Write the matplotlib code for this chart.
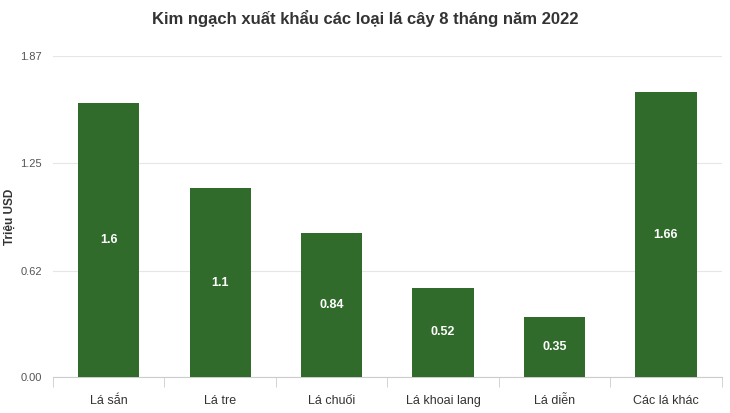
import numpy as np
import matplotlib.pyplot as plt

plt.rcParams['font.family'] = ['Liberation Sans', 'DejaVu Sans']

categories = ["Lá sắn", "Lá tre", "Lá chuối", "Lá khoai lang", "Lá diễn", "Các lá khác"]
values = [1.6, 1.1, 0.84, 0.52, 0.35, 1.66]
y_max = 1.87
y_ticks = [0.0, 0.62, 1.25, 1.87]

fig = plt.figure(figsize=(7.3, 4.13), dpi=100)
ax = fig.add_axes([0.0726, 0.087, 0.916, 0.777])

x = np.arange(len(categories))
bars = ax.bar(x, values, width=0.55, color="#316b2b", zorder=3)
for b, v in zip(bars, values):
    ax.text(b.get_x() + b.get_width() / 2, v / 2, str(v), ha="center", va="center",
            color="white", fontsize=9, fontweight="bold", zorder=4)

ax.set_xlim(-0.5, len(categories) - 0.5)
ax.set_ylim(0, y_max)
ax.set_yticks(y_ticks)
ax.set_yticklabels(["%.2f" % t for t in y_ticks], fontsize=8, color="#555555")
ax.set_xticks(x)
ax.set_xticklabels(categories, fontsize=9, color="#333333")
ax.set_xticks(np.arange(-0.5, len(categories)), minor=True)
ax.tick_params(axis="x", which="major", length=0, pad=13)
ax.tick_params(axis="x", which="minor", length=7, color="#cccccc")
ax.tick_params(axis="y", length=0, pad=8)
ax.grid(axis="y", color="#e6e6e6", linewidth=0.8, zorder=0)

for s in ["top", "right", "left"]:
    ax.spines[s].set_visible(False)
ax.spines["bottom"].set_color("#cccccc")

ax.set_ylabel("Triệu USD", fontsize=8.5, fontweight="bold", color="#333333", va="center")
ax.yaxis.set_label_coords(-0.064, 0.5)
fig.suptitle("Kim ngạch xuất khẩu các loại lá cây 8 tháng năm 2022", y=0.975,
             fontsize=12, fontweight="bold", color="#333333")

fig.savefig("out.png", dpi=100)
